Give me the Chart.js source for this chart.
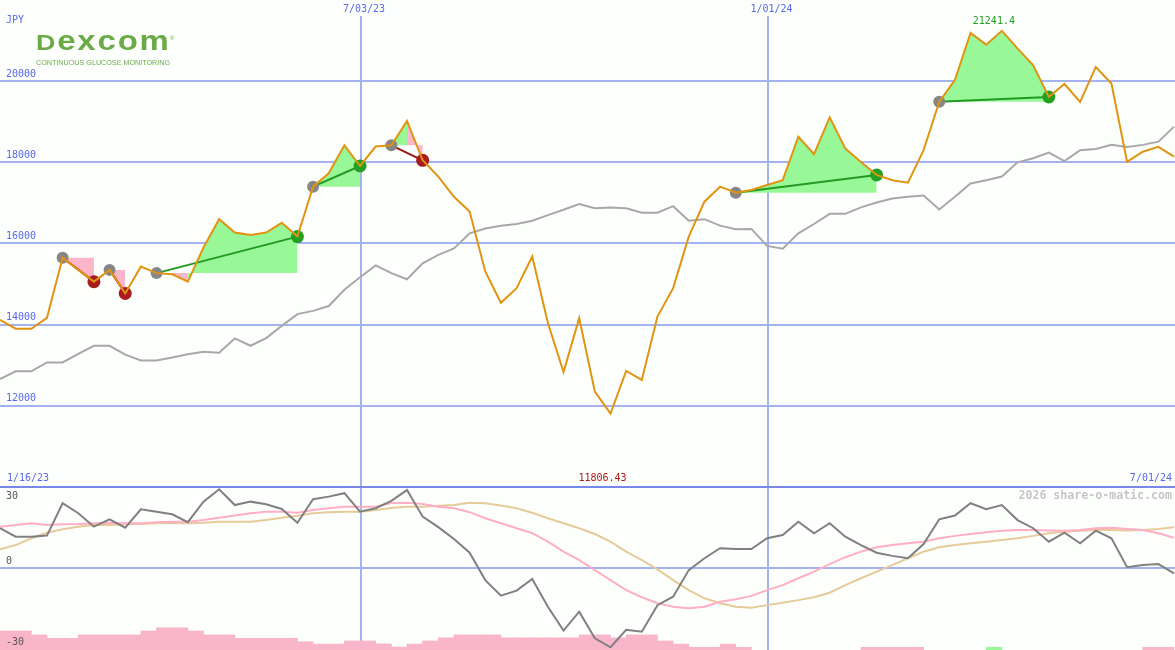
<!DOCTYPE html>
<html>
<head>
<meta charset="utf-8">
<script src="https://cdn.jsdelivr.net/npm/chart.js@4.4.1/dist/chart.umd.min.js"></script>
<style>
html,body{margin:0;padding:0;background:#fdfffd;width:1175px;height:650px;overflow:hidden;}
#wrap{position:relative;width:1175px;height:650px;}
canvas{position:absolute;left:0;}
#top{top:0;width:1175px;height:487px;}
#bot{top:487px;width:1175px;height:163px;}
#sep{position:absolute;left:0;top:486px;width:1175px;height:2px;background:#7888ea;}
#logo{position:absolute;left:36px;top:28px;color:#6aab46;font-family:"Liberation Sans",Arial,sans-serif;font-weight:bold;line-height:1;white-space:nowrap;transform:scaleX(1.22);transform-origin:0 0;letter-spacing:1.5px;font-size:16px;}
#logo .d{font-size:22px;}
#logo .r{font-size:27px;}
#reg{position:absolute;left:170px;top:35px;color:#6aab46;font-family:"Liberation Sans",Arial,sans-serif;font-size:6px;line-height:1;}
#sub{position:absolute;left:36px;top:59px;color:#6aab46;font-family:"Liberation Sans",Arial,sans-serif;font-size:7.2px;line-height:1;white-space:nowrap;}
</style>
</head>
<body>
<div id="wrap">
<canvas id="top" width="1175" height="487"></canvas>
<canvas id="bot" width="1175" height="163"></canvas>
<div id="sep"></div>
<div id="logo"><span class="d">D</span><span class="r">excom</span></div>
<div id="reg">®</div>
<div id="sub">CONTINUOUS GLUCOSE MONITORING</div>
</div>
<script>
// ---------- data ----------
const currency = 'JPY';
const rangeLabels = ['1/16/23', '7/01/24'];
const monthLabels = ['7/03/23', '1/01/24'];
const monthPos = [23.06, 49.09];           // week index of the month boundaries
const priceTicks = [12000, 14000, 16000, 18000, 20000];
const oscTicks = [30, 0, -30];
const watermark = '2026 share-o-matic.com';

const price = [14120, 13900, 13900, 14170, 15650, 15350, 15060, 15350, 14770, 15430,
  15270, 15240, 15060, 15900, 16600, 16270, 16210, 16270, 16510, 16170,
  17400, 17730, 18420, 17910, 18390, 18420, 19020, 18050, 17650, 17150,
  16790, 15310, 14540, 14900, 15680, 14040, 12830, 14160, 12350, 11806.43,
  12860, 12640, 14200, 14900, 16170, 17030, 17400, 17250, 17320, 17440,
  17560, 18630, 18200, 19110, 18340, 18010, 17690, 17560, 17500, 18300,
  19490, 20030, 21190, 20900, 21241.4, 20810, 20390, 19610, 19930, 19490,
  20350, 19940, 18010, 18260, 18380, 18140];

const avg = [12660, 12850, 12850, 13070, 13070, 13280, 13480, 13480, 13260, 13120,
  13120, 13190, 13270, 13330, 13310, 13660, 13480, 13670, 13970, 14260,
  14340, 14460, 14860, 15170, 15460, 15270, 15120, 15510, 15720, 15880,
  16250, 16370, 16440, 16480, 16560, 16700, 16830, 16970, 16870, 16890,
  16870, 16760, 16760, 16920, 16560, 16600, 16440, 16350, 16360, 15940,
  15870, 16250, 16480, 16730, 16730, 16890, 17010, 17110, 17150, 17180,
  16840, 17150, 17480, 17560, 17650, 18000, 18100, 18240, 18030, 18300,
  18330, 18430, 18380, 18430, 18510, 18880];

const osc = [15.1, 11.9, 11.9, 12.3, 24.6, 20.8, 15.7, 18.5, 15.3, 22.3,
  21.4, 20.4, 17.4, 25.2, 29.9, 23.9, 25.2, 24.2, 22.4, 17.2,
  26.1, 27.1, 28.4, 21.4, 22.7, 25.5, 29.6, 19.5, 15.5, 11.0,
  5.8, -4.6, -10.5, -8.6, -4.2, -14.7, -23.8, -16.6, -26.7, -30.1,
  -23.5, -24.2, -14.1, -10.9, -0.8, 3.7, 7.5, 7.2, 7.2, 11.3,
  12.5, 17.6, 13.2, 17.0, 11.9, 8.7, 5.8, 4.6, 3.7, 9.1,
  18.5, 19.9, 24.6, 22.3, 23.9, 18.2, 15.1, 10.0, 13.4, 9.4,
  14.2, 11.3, 0.3, 1.1, 1.5, -2.0];

const oscFast = [15.7, 16.3, 17.0, 16.3, 16.6, 16.7, 17.0, 17.2, 17.0, 17.0,
  17.4, 17.6, 17.6, 18.2, 19.1, 19.9, 20.8, 21.4, 21.4, 21.0,
  22.0, 22.7, 23.3, 23.3, 23.3, 24.7, 24.8, 24.3, 23.3, 22.7,
  21.2, 18.9, 17.0, 15.1, 13.2, 10.0, 6.2, 3.0, -0.8, -4.6,
  -8.4, -11.1, -13.4, -14.7, -15.3, -14.7, -12.8, -11.9, -10.6, -8.4,
  -6.5, -3.9, -1.4, 1.5, 4.1, 6.2, 7.9, 8.7, 9.4, 10.0,
  11.3, 12.2, 12.9, 13.6, 14.1, 14.4, 14.4, 14.2, 14.1, 14.4,
  15.1, 15.3, 14.8, 14.4, 13.2, 11.5];

const oscSlow = [7.1, 8.7, 11.3, 13.4, 14.7, 15.7, 16.3, 16.3, 16.6, 16.7,
  17.0, 17.0, 17.0, 17.2, 17.6, 17.6, 17.6, 18.2, 19.1, 19.8,
  20.8, 21.2, 21.4, 21.4, 22.0, 22.8, 23.3, 23.3, 23.6, 23.9,
  24.8, 24.6, 23.7, 22.7, 21.0, 18.9, 17.0, 15.1, 12.9, 10.0,
  6.2, 3.0, -0.5, -4.6, -8.4, -11.5, -13.4, -14.7, -15.1, -14.1,
  -13.2, -12.2, -11.1, -9.4, -6.5, -3.9, -1.4, 1.1, 3.7, 6.2,
  7.9, 8.7, 9.4, 10.0, 10.6, 11.3, 12.2, 13.2, 13.8, 14.1,
  14.4, 14.4, 14.2, 14.4, 14.8, 15.5];

const hist = [-23.9, -23.9, -25.4, -26.7, -26.7, -25.4, -25.4, -25.4, -25.4, -23.9,
  -22.7, -22.7, -23.9, -25.4, -25.4, -26.7, -26.7, -26.7, -26.7, -28.0,
  -28.9, -28.9, -27.7, -27.7, -28.8, -30.0, -28.9, -27.7, -26.5, -25.4,
  -25.4, -25.4, -26.5, -26.5, -26.5, -26.5, -26.5, -25.4, -25.4, -26.5,
  -25.4, -25.4, -27.7, -28.9, -30.1, -30.1, -28.9, -30.1, null, null,
  null, null, null, null, null, -30.1, -30.1, -30.1, -30.1, null,
  null, null, null, -30.1, null, null, null, null, null, null,
  null, null, null, -30.1, -30.1, null];
const histUp = [63];

const tradeEntry = [4, 7, 10, 20, 25, 47, 60];
const tradeExit  = [6, 8, 19, 23, 27, 56, 67];

// ---------- scale ranges ----------
const X_MIN = 0, X_MAX = 75.06;
const P_MIN = 10000, P_MAX = 21605.7;
const O_MIN = -31.14, O_MAX = 30.76;

// ---------- styles ----------
const GRID = '#a4b2f2';
const LABEL = '#5868f0';
const ORANGE = '#e09412';
const GRAY = '#a8a8a8';
const FILL_UP = '#98f898';
const FILL_DN = '#fbb6c9';
const WIN = '#22a022';
const LOSS = '#a81c1c';
const FONT = '10px "DejaVu Sans Mono", monospace';

const pts = arr => arr.map((v, i) => ({x: i, y: v}));

// ---------- top datasets ----------
const datasets = [];
datasets.push({label: 'price', data: pts(price), borderColor: ORANGE, borderWidth: 2, pointRadius: 0, fill: false, tension: 0, order: 0});

const entries = [], winExits = [], lossExits = [];
tradeEntry.forEach((e, t) => {
  const x = tradeExit[t];
  const lvl = price[e];
  const win = price[x] >= lvl;
  entries.push({x: e, y: price[e]});
  (win ? winExits : lossExits).push({x: x, y: price[x]});
  datasets.push({data: [{x: e, y: price[e]}, {x: x, y: price[x]}], borderColor: win ? '#229a22' : '#a01414', borderWidth: 2, pointRadius: 0, fill: false, order: 2});
  // shaded area between price and entry level, coloured per week by the sign at the week's end;
  // consecutive weeks of the same colour are merged into one filled run
  let k = e;
  while (k < x) {
    const up = price[k + 1] >= lvl;
    let m = k + 1;
    while (m < x && (price[m + 1] >= lvl) === up) m++;
    const run = [];
    for (let j = k; j <= m; j++) run.push({x: j, y: price[j]});
    datasets.push({data: run, borderWidth: 0, borderColor: 'rgba(0,0,0,0)', pointRadius: 0, fill: {value: lvl}, backgroundColor: up ? FILL_UP : FILL_DN, order: 5});
    k = m;
  }
});
datasets.push({data: entries, showLine: false, pointRadius: 6, pointBackgroundColor: '#868686', pointBorderWidth: 0, order: 1});
datasets.push({data: winExits, showLine: false, pointRadius: 6.5, pointBackgroundColor: WIN, pointBorderWidth: 0, order: 1});
datasets.push({data: lossExits, showLine: false, pointRadius: 6.5, pointBackgroundColor: LOSS, pointBorderWidth: 0, order: 1});
datasets.push({label: 'avg', data: pts(avg), borderColor: GRAY, borderWidth: 2, pointRadius: 0, fill: false, tension: 0, order: 3});

const topText = {
  id: 'topText',
  afterDraw(chart) {
    const {ctx, chartArea} = chart;
    const xs = chart.scales.x, ys = chart.scales.y;
    ctx.save();
    ctx.font = FONT;
    ctx.textBaseline = 'middle';
    ctx.fillStyle = LABEL;
    ctx.textAlign = 'left';
    ctx.fillText(currency, 6, 20);
    priceTicks.forEach(v => ctx.fillText(String(v), 6, ys.getPixelForValue(v) - 7));
    ctx.textAlign = 'center';
    monthPos.forEach((p, k) => ctx.fillText(monthLabels[k], xs.getPixelForValue(p) + 3, 9));
    ctx.textAlign = 'left';
    ctx.fillText(rangeLabels[0], 7, chartArea.bottom - 9);
    ctx.textAlign = 'right';
    ctx.fillText(rangeLabels[1], chartArea.right - 3, chartArea.bottom - 9);
    const maxV = Math.max(...price), minV = Math.min(...price);
    const maxI = price.indexOf(maxV), minI = price.indexOf(minV);
    ctx.textAlign = 'center';
    ctx.fillStyle = WIN;
    ctx.fillText(String(maxV), xs.getPixelForValue(maxI) - 8, 21);
    ctx.fillStyle = '#b01818';
    ctx.fillText(String(minV), xs.getPixelForValue(minI) - 8, chartArea.bottom - 9);
    ctx.restore();
  }
};

new Chart(document.getElementById('top'), {
  type: 'line',
  data: {datasets},
  options: {
    responsive: false, animation: false, devicePixelRatio: 1, events: [],
    layout: {padding: {top: 16, left: 0, right: 0, bottom: 0}, autoPadding: false},
    plugins: {legend: {display: false}, tooltip: {enabled: false}},
    scales: {
      x: {type: 'linear', min: X_MIN, max: X_MAX, offset: false, position: 'bottom',
        afterBuildTicks: s => { s.ticks = monthPos.map(v => ({value: v})); },
        ticks: {display: false}, border: {display: false},
        grid: {color: GRID, lineWidth: 2, drawTicks: false, offset: false}},
      y: {type: 'linear', min: P_MIN, max: P_MAX, position: 'left',
        afterBuildTicks: s => { s.ticks = priceTicks.map(v => ({value: v})); },
        ticks: {display: false}, border: {display: false},
        grid: {color: GRID, lineWidth: 2, drawTicks: false}}
    }
  },
  plugins: [topText]
});

// ---------- bottom ----------
const histData = [];
hist.forEach((v, i) => { if (v !== null) histData.push({x: i + 0.5, y: v, i: i}); });

const botText = {
  id: 'botText',
  afterDraw(chart) {
    const {ctx, chartArea} = chart;
    const ys = chart.scales.y;
    ctx.save();
    ctx.font = FONT;
    ctx.textBaseline = 'middle';
    ctx.textAlign = 'left';
    ctx.fillStyle = '#555555';
    oscTicks.forEach(v => {
      const off = v > 0 ? 7 : (v < 0 ? -5 : -7);
      ctx.fillText(String(v), 6, ys.getPixelForValue(v) + off);
    });
    ctx.font = 'bold 11.6px "DejaVu Sans Mono", monospace';
    ctx.fillStyle = '#c6c6c6';
    ctx.textAlign = 'right';
    ctx.fillText(watermark, chartArea.right - 3, 9);
    ctx.restore();
  }
};

new Chart(document.getElementById('bot'), {
  type: 'line',
  data: {datasets: [
    {type: 'bar', data: histData, base: O_MIN, barPercentage: 1, categoryPercentage: 1, borderWidth: 0,
      backgroundColor: c => (c.raw && histUp.includes(c.raw.i)) ? FILL_UP : '#f9b5c9', order: 5},
    {data: pts(oscSlow), borderColor: '#e6ca9a', borderWidth: 2, pointRadius: 0, fill: false, tension: 0, order: 3},
    {data: pts(oscFast), borderColor: '#ffaec6', borderWidth: 2, pointRadius: 0, fill: false, tension: 0, order: 2},
    {data: pts(osc), borderColor: '#808080', borderWidth: 2, pointRadius: 0, fill: false, tension: 0, order: 1}
  ]},
  options: {
    responsive: false, animation: false, devicePixelRatio: 1, events: [],
    layout: {padding: 0, autoPadding: false},
    plugins: {legend: {display: false}, tooltip: {enabled: false}},
    scales: {
      x: {type: 'linear', min: X_MIN, max: X_MAX, offset: false, position: 'bottom',
        afterBuildTicks: s => { s.ticks = monthPos.map(v => ({value: v})); },
        ticks: {display: false}, border: {display: false},
        grid: {color: GRID, lineWidth: 2, drawTicks: false, offset: false}},
      y: {type: 'linear', min: O_MIN, max: O_MAX, position: 'left',
        afterBuildTicks: s => { s.ticks = [{value: 0}]; },
        ticks: {display: false}, border: {display: false},
        grid: {color: GRID, lineWidth: 2, drawTicks: false}}
    }
  },
  plugins: [botText]
});
</script>
</body>
</html>
